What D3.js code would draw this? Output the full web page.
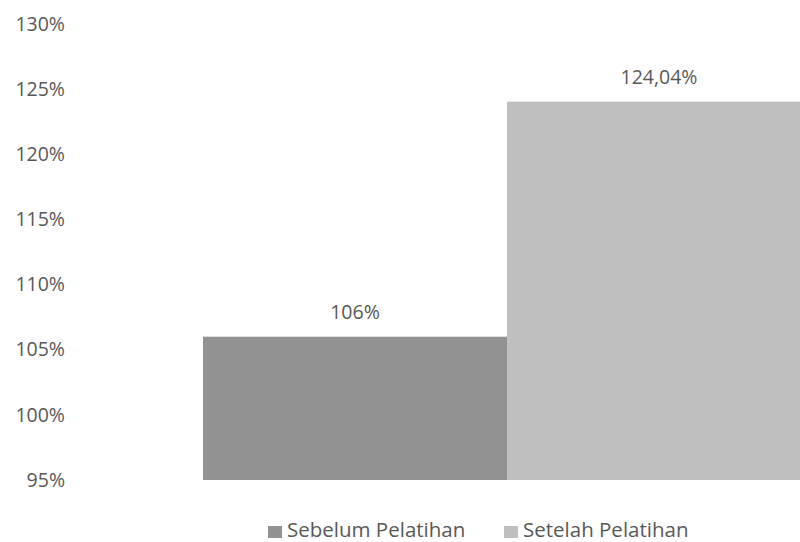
<!DOCTYPE html>
<html>
<head>
<meta charset="utf-8">
<script src="https://cdn.jsdelivr.net/npm/d3@7"></script>
<style>
  body { margin: 0; background: #fff; }
  text { font-family: "Open Sans", sans-serif; fill: #595959; }
</style>
</head>
<body>
<div id="chart"></div>
<script>
// data
var series = ["Sebelum Pelatihan", "Setelah Pelatihan"];
var values = [1.06, 1.2404];
var colors = ["#929292", "#bfbfbf"];
var yTicks = [0.95, 1.00, 1.05, 1.10, 1.15, 1.20, 1.25, 1.30];

var w = 800, h = 542;

var svg = d3.select("#chart")
  .append("svg")
  .attr("width", w)
  .attr("height", h);

var idLocale = d3.formatLocale({decimal: ",", thousands: ".", grouping: [3], currency: ["Rp", ""]});
var fmtTick = idLocale.format(".0%");
var fmtLabel = idLocale.format(".5~%");

var y = d3.scaleLinear()
  .domain([0.95, 1.30])
  .range([480, 24]);

// second bar runs past the right edge, as in the reference
var x = d3.scaleBand()
  .domain(series)
  .range([203, 811])
  .padding(0);

var color = d3.scaleOrdinal().domain(series).range(colors);

// y axis labels only
var yAxis = d3.axisLeft(y)
  .tickValues(yTicks)
  .tickFormat(fmtTick)
  .tickSize(0)
  .tickPadding(0);

svg.append("g")
  .attr("class", "y-axis")
  .attr("transform", "translate(65,0)")
  .call(yAxis)
  .call(function(g) { g.select(".domain").remove(); })
  .selectAll("text")
  .style("font-size", "19.5px")
  .style("font-family", "'Open Sans', sans-serif")
  .attr("fill", "#595959");

var data = series.map(function(s, i) { return {name: s, value: values[i]}; });

svg.append("g")
  .selectAll("rect")
  .data(data)
  .enter()
  .append("rect")
  .attr("x", function(d) { return x(d.name); })
  .attr("width", x.bandwidth())
  .attr("y", function(d) { return y(d.value); })
  .attr("height", function(d) { return y(0.95) - y(d.value); })
  .attr("fill", function(d) { return color(d.name); });

svg.append("g")
  .selectAll("text")
  .data(data)
  .enter()
  .append("text")
  .attr("x", function(d) { return x(d.name) + x.bandwidth() / 2; })
  .attr("y", function(d) { return y(d.value) - 18; })
  .attr("text-anchor", "middle")
  .style("font-size", "19.5px")
  .text(function(d) { return fmtLabel(d.value); });

// legend
var legendX = [268, 504];
var legend = svg.append("g").attr("class", "legend");
var item = legend.selectAll("g")
  .data(series)
  .enter()
  .append("g")
  .attr("transform", function(d, i) { return "translate(" + legendX[i] + ",524)"; });

item.append("rect")
  .attr("width", 14)
  .attr("height", 12)
  .attr("y", 2)
  .attr("fill", function(d) { return color(d); });

item.append("text")
  .attr("x", 19)
  .attr("y", 13)
  .style("font-size", "20.5px")
  .text(function(d) { return d; });
</script>
</body>
</html>
